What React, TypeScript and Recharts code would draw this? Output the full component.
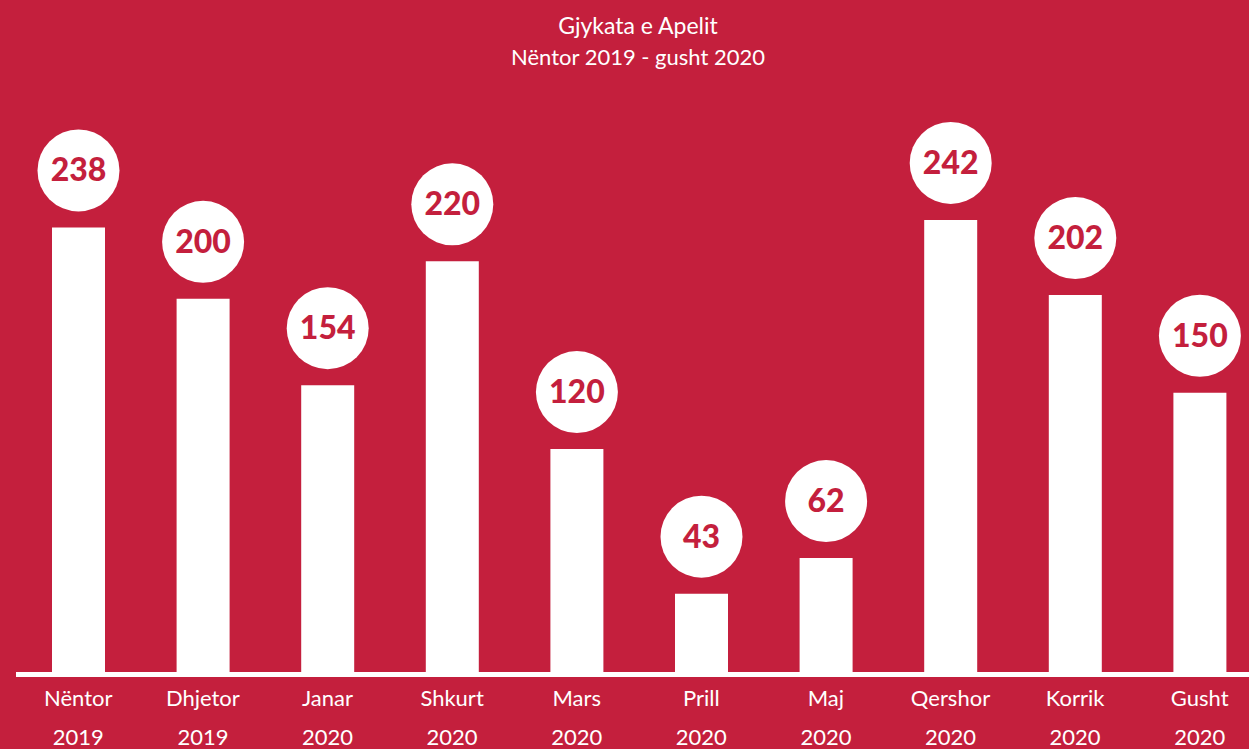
import React from 'react';
import { BarChart, Bar, XAxis, YAxis, LabelList } from 'recharts';

// Dados
const months = ['Nëntor', 'Dhjetor', 'Janar', 'Shkurt', 'Mars', 'Prill', 'Maj', 'Qershor', 'Korrik', 'Gusht'];
const years = ['2019', '2019', '2020', '2020', '2020', '2020', '2020', '2020', '2020', '2020'];
const cases = [238, 200, 154, 220, 120, 43, 62, 242, 202, 150];

const title = 'Gjykata e Apelit';
const subtitle = 'Nëntor 2019 - gusht 2020';

const RED = '#C41F3D';
const FONT = 'Lato, "Open Sans", sans-serif';

const data = months.map((m, i) => ({ key: `${m}-${i}`, month: m, year: years[i], value: cases[i] }));

const MonthTick = (props: any) => {
  const { x, y, index } = props;
  return (
    <text x={x} textAnchor="middle" fill="#fff" fontFamily={FONT} fontSize={22}>
      <tspan x={x} y={y + 23}>{months[index]}</tspan>
      <tspan x={x} y={y + 62}>{years[index]}</tspan>
    </text>
  );
};

const Bubble = (props: any) => {
  const { x, y, width, value } = props;
  const cx = Number(x) + Number(width) / 2;
  const cy = Number(y) - 57;
  return (
    <g>
      <circle cx={cx} cy={cy} r={41} fill="#fff" />
      <text x={cx} y={cy} dy={11} textAnchor="middle" fill={RED} fontFamily={FONT} fontWeight={900} fontSize={32}>
        {value}
      </text>
    </g>
  );
};

export default function App() {
  return (
    <div style={{ position: 'fixed', left: 0, top: 0, width: 1249, height: 749, overflow: 'hidden', background: RED }}>
      <div style={{ position: 'absolute', left: 0, width: 1276, top: 10, textAlign: 'center', color: '#fff', fontFamily: FONT, fontSize: 23, lineHeight: '30px' }}>
        <div>{title}</div>
        <div style={{ fontSize: 22, marginTop: 2 }}>{subtitle}</div>
      </div>
      <div style={{ position: 'absolute', left: 0, top: 0 }}>
        <BarChart width={1300} height={749} data={data} margin={{ top: 111, right: 38, bottom: 0, left: 16 }}>
          <YAxis hide domain={[0, 300]} />
          <XAxis
            dataKey="key"
            height={74.5}
            interval={0}
            axisLine={{ stroke: '#fff', strokeWidth: 5 }}
            tickLine={false}
            tick={<MonthTick />}
          />
          <Bar dataKey="value" fill="#fff" barSize={53} isAnimationActive={false}>
            <LabelList dataKey="value" content={<Bubble />} />
          </Bar>
        </BarChart>
      </div>
    </div>
  );
}
